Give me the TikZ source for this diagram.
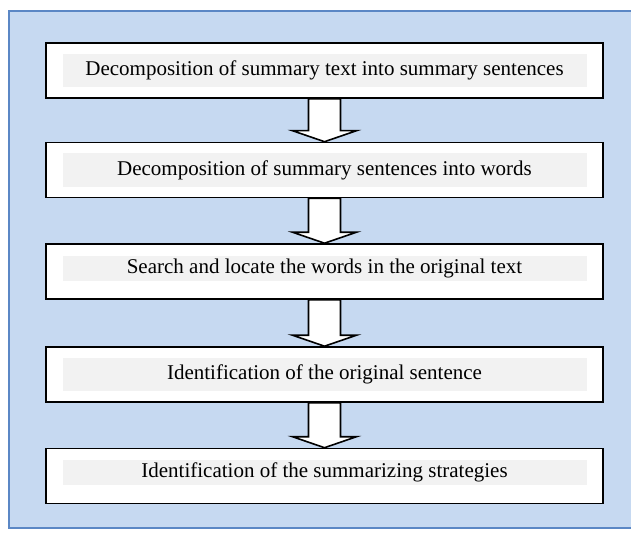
\documentclass[tikz,border=0pt]{standalone}
\usepackage{fontspec}
\setmainfont{Liberation Serif}
\usetikzlibrary{positioning, calc}
\definecolor{panelblue}{HTML}{C6D9F1}
\definecolor{paneledge}{HTML}{5B87C5}
\definecolor{shadegray}{HTML}{F2F2F2}

\begin{document}
\begin{tikzpicture}[x=1pt, y=1pt,
  stepbox/.style={draw=black, line width=1.6pt, fill=white, minimum width=557pt, minimum height=55pt, inner sep=0pt},
  textbar/.style={fill=shadegray, minimum width=524pt, inner sep=0pt, font=\fontsize{21}{25}\selectfont},
  tallbar/.style={textbar, minimum height=33pt},
  shortbar/.style={textbar, minimum height=25pt},
  blockarrow/.style={draw=black, line width=1.6pt, fill=white, line join=miter}]
\useasboundingbox (0,0) rectangle (631,-540);

% Panel
\draw[paneledge, fill=panelblue, line width=2pt] (9,-11) rectangle (636,-528);

% Steps
\node[stepbox] (s1) at (324.5,-70.5) {};
\node[stepbox] (s2) at (324.5,-170) {};
\node[stepbox] (s3) at (324.5,-271.5) {};
\node[stepbox] (s4) at (324.5,-374.5) {};
\node[stepbox] (s5) at (324.5,-476) {};

% Shaded text lines
\node[tallbar] (t1) at (s1.center) {Decomposition of summary text into summary sentences};
\node[tallbar] (t2) at (s2.center) {Decomposition of summary sentences into words};
\node[shortbar] (t3) at ($(s3.center)+(0,3)$) {Search and locate the words in the original text};
\node[tallbar] (t4) at (s4.center) {Identification of the original sentence};
\node[shortbar] (t5) at ($(s5.center)+(0,4)$) {Identification of the summarizing strategies};

% Block arrows
\foreach \a/\b in {s1/s2, s2/s3, s3/s4, s4/s5}
  \draw[blockarrow] ($(\a.south)+(-16,0)$) -- ($(\b.north)+(-16,11)$)
    -- ($(\b.north)+(-32,11)$) -- (\b.north) -- ($(\b.north)+(32,11)$)
    -- ($(\b.north)+(16,11)$) -- ($(\a.south)+(16,0)$) -- cycle;
\end{tikzpicture}
\end{document}
